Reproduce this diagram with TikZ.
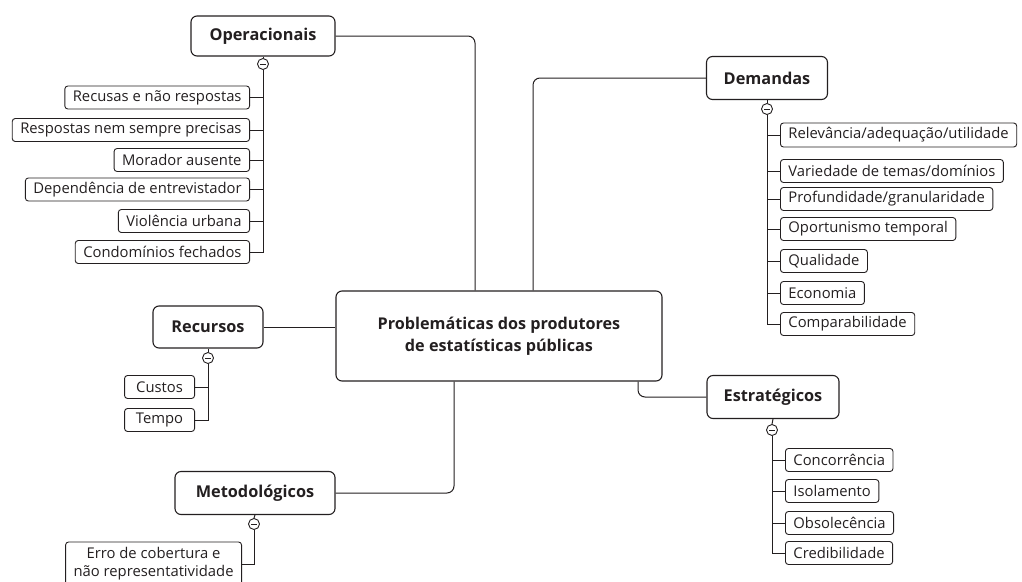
\documentclass[tikz,border=0pt]{standalone}
\usepackage{fontspec}
\setmainfont{Open Sans}
\definecolor{ink}{HTML}{231F20}
\begin{document}
\begin{tikzpicture}[x=1pt,y=-1pt,
  mainbox/.style={draw=ink, text=ink, rounded corners=6pt, line width=1.1pt, minimum height=42pt,
    font=\bfseries\fontsize{16.3}{19}\selectfont},
  leafbox/.style={draw=ink, text=ink, rounded corners=3pt, line width=0.9pt, minimum height=23pt,
    inner xsep=8pt, inner ysep=1pt, font=\fontsize{14.8}{16}\selectfont},
  conn/.style={draw=ink, line width=1pt, rounded corners=7pt},
  stub/.style={draw=ink, line width=1pt},
  minus/.style={draw=ink, circle, fill=white, minimum size=11pt, inner sep=0pt, line width=0.9pt,
    path picture={\draw[ink, line width=1pt] ([xshift=-3pt]path picture bounding box.center) -- ([xshift=3pt]path picture bounding box.center);}}]
\useasboundingbox (0,0) rectangle (1022,581);

% center
\node[mainbox, minimum width=326pt, minimum height=90pt, align=center,
  font=\bfseries\fontsize{16.2}{22}\selectfont] (c) at (499,336)
  {Problemáticas dos produtores\\de estatísticas públicas};

% main branches
\node[mainbox, minimum width=144pt, minimum height=40pt] (op) at (263,36) {Operacionais};
\node[mainbox, minimum width=121pt, minimum height=43pt] (dem) at (767,78) {Demandas};
\node[mainbox, minimum width=110pt, minimum height=42pt] (rec) at (208,327) {Recursos};
\node[mainbox, minimum width=160pt, minimum height=43pt] (met) at (255,493) {Metodológicos};
\node[mainbox, minimum width=132pt, minimum height=43pt] (est) at (773,397) {Estratégicos};

\draw[conn] (op.east) -| ([xshift=-24pt]c.north);
\draw[conn] (dem.west) -| ([xshift=34pt]c.north);
\draw[stub] (rec.east) -- (rec.east -| c.west);
\draw[conn] (met.east) -| ([xshift=-45pt]c.south);
\draw[conn] (est.west) -| ([xshift=139pt]c.south);

% minus markers
\node[minus] (opm) at (263,64) {};
\node[minus] (demm) at (767,109) {};
\node[minus] (recm) at (208,358) {};
\node[minus] (metm) at (254,524) {};
\node[minus] (estm) at (772,430) {};
\draw[stub] (op.south) -- (opm.north);
\draw[stub] (dem.south) -- (demm.north);
\draw[stub] (rec.south) -- (recm.north);
\draw[stub] (met.south) -- (metm.north);
\draw[stub] (est.south) -- (estm.north);

% Operacionais leaves
\node[leafbox, anchor=east] (o1) at (250,97.5) {Recusas e não respostas};
\node[leafbox, anchor=east] (o2) at (250,130) {Respostas nem sempre precisas};
\node[leafbox, anchor=east] (o3) at (250,160) {Morador ausente};
\node[leafbox, anchor=east] (o4) at (250,189.5) {Dependência de entrevistador};
\node[leafbox, anchor=east] (o5) at (250,221) {Violência urbana};
\node[leafbox, anchor=east] (o6) at (250,252) {Condomínios fechados};
\draw[stub] (opm.south) |- (o6.east);
\foreach \n in {o1,o2,o3,o4,o5} \draw[stub] (\n.east) -- (\n.east -| opm);

% Demandas leaves
\node[leafbox, anchor=west, minimum height=24pt] (d1) at (780,135) {Relevância/adequação/utilidade};
\node[leafbox, anchor=west] (d2) at (780,171) {Variedade de temas/domínios};
\node[leafbox, anchor=west] (d3) at (780,199) {Profundidade/granularidade};
\node[leafbox, anchor=west] (d4) at (780,229) {Oportunismo temporal};
\node[leafbox, anchor=west] (d5) at (780,261) {Qualidade};
\node[leafbox, anchor=west] (d6) at (780,293) {Economia};
\node[leafbox, anchor=west] (d7) at (780,324) {Comparabilidade};
\draw[stub] (demm.south) |- (d7.west);
\foreach \n in {d1,d2,d3,d4,d5,d6} \draw[stub] (\n.west) -- (\n.west -| demm);

% Recursos leaves
\node[leafbox, anchor=east, minimum width=70pt] (r1) at (195,387) {Custos};
\node[leafbox, anchor=east, minimum width=70pt] (r2) at (195,420) {Tempo};
\draw[stub] (recm.south) |- (r2.east);
\draw[stub] (r1.east) -- (r1.east -| recm);

% Metodologicos leaf
\node[leafbox, anchor=east, align=center, minimum height=44pt, font=\fontsize{14.8}{18}\selectfont] (m1) at (242,564)
  {Erro de cobertura e\\não representatividade};
\draw[stub] (metm.south) |- (m1.east);

% Estrategicos leaves
\node[leafbox, anchor=west] (e1) at (785,460) {Concorrência};
\node[leafbox, anchor=west] (e2) at (785,491) {Isolamento};
\node[leafbox, anchor=west] (e3) at (785,523) {Obsolecência};
\node[leafbox, anchor=west] (e4) at (785,553) {Credibilidade};
\draw[stub] (estm.south) |- (e4.west);
\foreach \n in {e1,e2,e3} \draw[stub] (\n.west) -- (\n.west -| estm);
\end{tikzpicture}
\end{document}
